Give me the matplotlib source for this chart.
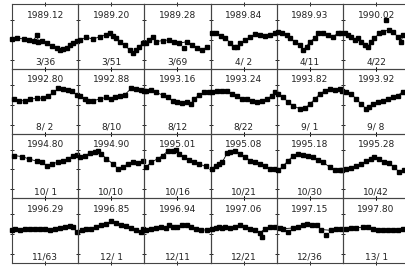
import matplotlib
matplotlib.use("Agg")
import matplotlib.pyplot as plt

top_labels = [
    ["1989.12", "1989.20", "1989.28", "1989.84", "1989.93", "1990.02"],
    ["1992.80", "1992.88", "1993.16", "1993.24", "1993.82", "1993.92"],
    ["1994.80", "1994.90", "1995.01", "1995.08", "1995.18", "1995.28"],
    ["1996.29", "1996.85", "1996.94", "1997.06", "1997.15", "1997.80"],
]
bottom_labels = [
    ["3/36", "3/51", "3/69", "4/ 2", "4/11", "4/22"],
    ["8/ 2", "8/10", "8/12", "8/22", "9/ 1", "9/ 8"],
    ["10/ 1", "10/10", "10/16", "10/21", "10/30", "10/42"],
    ["11/63", "12/ 1", "12/11", "12/21", "12/36", "13/ 1"],
]

# series per panel (x in percent of the panel window, y in relative units)
x11 = [0, 7.5, 17.5, 25, 32.5, 37.5, 40, 45, 52.5, 60, 67.5, 72.5, 77.5, 82.5, 87.5, 92.5, 97.5]
y11 = [0.7, 1.7, 1, 0, -0.7, 5, -1.7, -1, -3.3, -6, -8.3, -10, -9.3, -7.7, -5, -2.7, -0.7]
x12 = [2.5, 12.5, 22.5, 32.5, 42.5, 47.5, 52.5, 57.5, 62.5, 70, 77.5, 82.5, 87.5, 92.5, 97.5]
y12 = [0, 2.7, 0.7, 3.3, 5, 6.7, 4, 1.7, -1.7, -5, -10, -13.3, -10, -6.7, -3.3]
x13 = [2.5, 7.5, 12.5, 17.5, 27.5, 37.5, 45, 52.5, 65, 72.5, 80, 87.5, 95]
y13 = [-3.3, 0, 3.3, -1.7, -0.7, 0, -1.7, -3.3, -1.7, -5, -8.3, -10, -6.7]
x14 = [2.5, 7.5, 15, 22.5, 30, 35, 40, 45, 52.5, 60, 67.5, 75, 82.5, 90, 97.5]
y14 = [6.7, 6.7, 4, 1.7, -3.3, -6.7, -7.3, -3.3, 0, 3.3, 5.7, 5, 4, 5, 6.7]
x15 = [2.5, 7.5, 15, 20, 27.5, 35, 40, 45, 50, 57.5, 62.5, 70, 77.5, 85, 92.5, 97.5]
y15 = [8.3, 6.7, 5, 1.7, -1.7, -5, -10, -6.7, -1.7, 1.7, 6.7, 6.7, 5, 3.3, 6.7, 6.7]
x16 = [2.5, 7.5, 12.5, 17.5, 22.5, 27.5, 32.5, 37.5, 42.5, 47.5, 55, 60, 70, 75, 82.5, 87.5, 91]
y16 = [6.7, 5, 3.3, 0, 1.7, -1.7, -5, -6.7, -1.7, 1.7, 6.7, 8.3, 10, 8.3, 3.3, -1.7, 5]

x21 = [2.5, 10, 20, 27.5, 37.5, 47.5, 55, 62.5, 70, 77.5, 85, 90, 97.5]
y21 = [5.7, 4, 4, 5.7, 6.3, 6.7, 9, 12.3, 16.3, 15.7, 14.7, 14, 9.7]
x22 = [2.5, 10, 15, 22.5, 32.5, 42.5, 50, 55, 62.5, 70, 80, 87.5, 95, 99]
y22 = [9, 5.7, 4, 4, 5.7, 7.3, 5.7, 7.3, 9, 9.7, 16.3, 15.7, 15, 14]
x23 = [2.5, 10, 17.5, 27.5, 35, 42.5, 50, 57.5, 65, 70, 75, 82.5, 90, 97.5]
y23 = [14, 15, 12.3, 9.7, 7.3, 4, 2.3, 1.7, 2.3, 0.7, 5.7, 9.7, 12.3, 13]
x24 = [2.5, 10, 17.5, 25, 32.5, 40, 47.5, 55, 62.5, 70, 77.5, 85, 92.5, 97.5]
y24 = [13, 14, 14, 13.3, 10.7, 8.3, 5.7, 5.7, 4, 2.3, 4, 5.7, 9, 12.3]
x25 = [2.5, 10, 17.5, 25, 35, 42.5, 50, 57.5, 65, 72.5, 80, 87.5, 95, 99]
y25 = [10.7, 7.3, 2.3, -1, -4.3, -3.7, 0.7, 5.7, 10.7, 14, 15.7, 15, 15.7, 14]
x26 = [5, 12.5, 20, 27.5, 35, 40, 45, 52.5, 60, 67.5, 75, 82.5, 90]
y26 = [13, 10.7, 5.7, 0.7, -4.3, -2.7, 0.7, 2.3, 4, 5.7, 7.3, 9, 13]

x31 = [2.5, 15, 25, 37.5, 45, 52.5, 60, 70, 77.5, 85, 92.5, 98.5]
y31 = [14, 13, 10.7, 8.3, 7.3, 4, 5.7, 7.3, 9, 10.7, 14, 15]
x32 = [2.5, 10, 17.5, 25, 30, 35, 42.5, 52.5, 60, 67.5, 75, 82.5, 90, 97.5]
y32 = [12.3, 14, 16.3, 17.3, 19, 15.7, 10.7, 5.7, 0.7, 2.3, 5.7, 7.3, 6.3, 9]
x33 = [2.5, 10, 20, 27.5, 35, 42.5, 47.5, 52.5, 60, 67.5, 75, 82.5, 92.5]
y33 = [2.3, 7.3, 10.7, 14, 18.3, 19, 19.7, 15.7, 12.3, 9.7, 7.3, 5.7, 3]
x34 = [2.5, 7.5, 12.5, 17.5, 25, 30, 37.5, 45, 52.5, 60, 67.5, 75, 82.5, 90, 97.5]
y34 = [0.7, 4, 5.7, 7.3, 16.3, 17.3, 19, 15.7, 12.3, 9, 7.3, 5.7, 3, 0.7, 0.7]
x35 = [2.5, 10, 17.5, 25, 32.5, 40, 47.5, 55, 62.5, 70, 80, 87.5, 95, 99]
y35 = [-1, 4, 9, 14, 15.7, 15, 14, 12.3, 9.7, 7.3, 2.3, -1, -1, -0.3]
x36 = [5, 12.5, 20, 27.5, 35, 42.5, 47.5, 55, 62.5, 70, 77.5, 85, 92.5]
y36 = [0.7, 1.7, 3, 5.7, 8.3, 10.7, 12.3, 10.7, 7.3, 6.3, 2.3, -2.7, -1]

x41 = [0, 5, 12.5, 20, 27.5, 35, 42.5, 50, 57.5, 65, 72.5, 80, 87.5, 92.5, 97.5]
y41 = [4, 5.7, 4.7, 5.7, 5, 5.7, 5, 5.7, 4.7, 5.7, 6.3, 7.3, 8, 7.3, 2.3]
x42 = [5, 12.5, 20, 27.5, 35, 42.5, 50, 57.5, 65, 72.5, 80, 87.5, 95, 98.5]
y42 = [4.7, 5.7, 5.7, 7.3, 9, 10.7, 13, 11.7, 9.7, 8.3, 6.3, 4.7, 2.3, 5.7]
x43 = [2.5, 10, 17.5, 25, 32.5, 37.5, 42.5, 50, 57.5, 65, 70, 77.5, 85, 95]
y43 = [4.7, 5.7, 6.3, 7.3, 6.3, 9.7, 7.3, 7.3, 9, 9, 7.3, 5.7, 4.7, 4]
x44 = [2.5, 7.5, 12.5, 17.5, 22.5, 30, 37.5, 45, 52.5, 60, 67.5, 75, 82.5, 90, 97.5]
y44 = [5.7, 6.3, 7.3, 6.7, 7.3, 6.3, 7.3, 9.7, 7.3, 5.7, 4, 1.7, 5.7, 7.3, 7.3]
x45 = [5, 10, 25, 32.5, 40, 45, 52.5, 60, 67.5, 82.5, 90, 97.5]
y45 = [6.3, 5.7, 6.3, 7.3, 9, 10.7, 9.7, 9, 4.7, 4, 5, 5.7]
x46 = [5, 12.5, 20, 30, 37.5, 45, 52.5, 60, 67.5, 75, 82.5, 90, 97.5]
y46 = [5.7, 6.3, 6.3, 7.3, 7.3, 5.7, 4.7, 4, 4, 4.7, 4.7, 5.7, 5.7]

# isolated points lying off the curve: (row, col) -> (x list, y list)
outliers = {
    (0, 2): ([60], [-8.3]),
    (0, 5): ([65], [20]),
    (3, 3): ([77.5], [-2.7]),
    (3, 4): ([17.5, 75], [2.3, -0.3]),
}

series = [
    [(x11, y11), (x12, y12), (x13, y13), (x14, y14), (x15, y15), (x16, y16)],
    [(x21, y21), (x22, y22), (x23, y23), (x24, y24), (x25, y25), (x26, y26)],
    [(x31, y31), (x32, y32), (x33, y33), (x34, y34), (x35, y35), (x36, y36)],
    [(x41, y41), (x42, y42), (x43, y43), (x44, y44), (x45, y45), (x46, y46)],
]

W, H = 406, 267
fig = plt.figure(figsize=(W / 100, H / 100), dpi=100)

left_px, top_px = 12, 4
col_w, row_h = 66.2, 64.8

for r in range(4):
    for c in range(6):
        x0 = (left_px + c * col_w) / W
        y0 = 1 - (top_px + (r + 1) * row_h) / H
        ax = fig.add_axes([x0, y0, col_w / W, row_h / H])
        xs, ys = series[r][c]
        ax.plot(xs, ys, color="black", lw=0.6, marker="s", ms=3.4,
                mfc="black", mec="black", clip_on=False, zorder=3)
        if (r, c) in outliers:
            ox, oy = outliers[(r, c)]
            ax.plot(ox, oy, ls="none", marker="s", ms=3.4, color="black", zorder=3)
        ax.set_xlim(0, 100)
        ax.set_ylim(-29, 36)
        ax.set_xticks([50])
        ax.set_yticks([-20, 0, 20])
        ax.tick_params(axis="both", direction="inout", length=3.5, width=0.6,
                       labelleft=False, labelbottom=False,
                       top=True, bottom=True, left=True, right=False)
        for s in ax.spines.values():
            s.set_linewidth(0.8)
            s.set_color("#444444")
        ax.patch.set_alpha(0)
        ax.text(0.5, 0.83, top_labels[r][c], transform=ax.transAxes,
                ha="center", va="center", fontsize=6.5, color="#222222")
        ax.text(0.5, 0.10, bottom_labels[r][c], transform=ax.transAxes,
                ha="center", va="center", fontsize=6.5, color="#222222")

fig.savefig("out.png", dpi=100)
